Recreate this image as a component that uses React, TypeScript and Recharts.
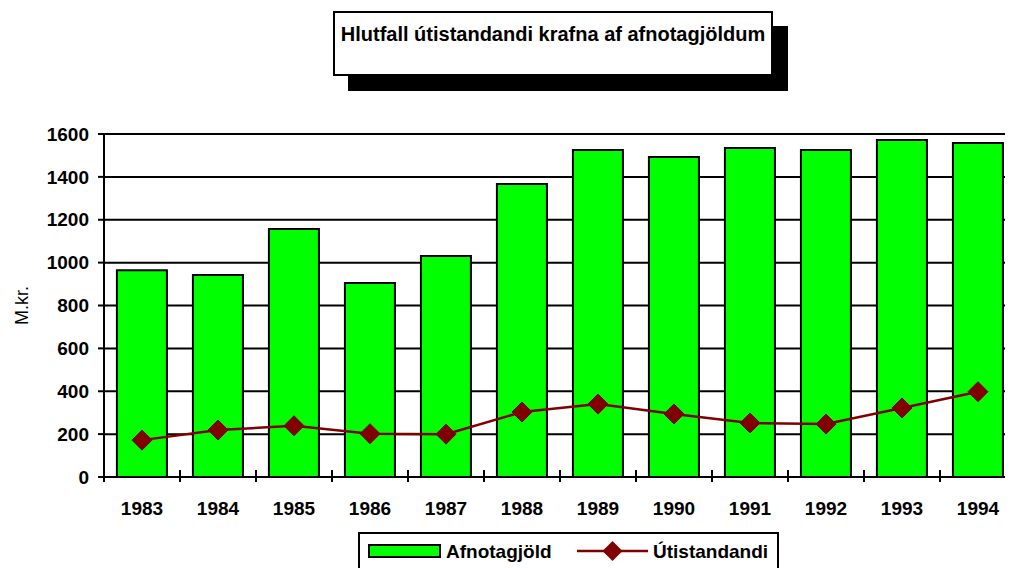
import React from 'react';
import { ComposedChart, Bar, Line, XAxis, YAxis, CartesianGrid } from 'recharts';

const years = ['1983', '1984', '1985', '1986', '1987', '1988', '1989', '1990', '1991', '1992', '1993', '1994'];
const afnotagjold = [965, 942, 1157, 905, 1031, 1367, 1525, 1493, 1535, 1525, 1572, 1558];
const utistandandi = [172, 219, 239, 202, 200, 303, 340, 294, 252, 247, 322, 398];
const yTicks = [0, 200, 400, 600, 800, 1000, 1200, 1400, 1600];

const data = years.map((y, i) => ({ year: y, afnotagjold: afnotagjold[i], utistandandi: utistandandi[i] }));

const FONT = '"Liberation Sans", Arial, Helvetica, sans-serif';

const Diamond = (props: any) => {
  const { cx, cy } = props;
  if (cx == null || cy == null) return null;
  const r = 10;
  return (
    <polygon
      points={`${cx},${cy - r} ${cx + r},${cy} ${cx},${cy + r} ${cx - r},${cy}`}
      fill="#800000"
      stroke="#800000"
    />
  );
};

const XTick = (props: any) => {
  const { x, y, payload, index, visibleTicksCount } = props;
  const off = payload && payload.offset ? payload.offset : 38;
  const last = index === (visibleTicksCount ? visibleTicksCount - 1 : years.length - 1);
  return (
    <g>
      <line x1={x - off} x2={x - off} y1={y - 7} y2={y + 5} stroke="#000" strokeWidth={2} />
      {last && <line x1={x + off} x2={x + off} y1={y - 7} y2={y + 5} stroke="#000" strokeWidth={2} />}
      <text x={x} y={y + 38} textAnchor="middle" fontFamily={FONT} fontWeight="bold" fontSize={19} fill="#000">
        {payload.value}
      </text>
    </g>
  );
};

export default function App() {
  return (
    <div style={{ position: 'relative', width: 1005, height: 560, overflow: 'hidden', background: '#fff' }}>
      <div
        style={{
          position: 'absolute',
          left: 325,
          top: 3,
          width: 440,
          height: 65,
          border: '2px solid #000',
          background: '#fff',
          boxShadow: '15px 15px 0 #000',
          textAlign: 'center',
          fontFamily: FONT,
          fontWeight: 'bold',
          fontSize: 20,
          lineHeight: '22px',
          paddingTop: 10,
          boxSizing: 'border-box',
          whiteSpace: 'nowrap',
          zIndex: 2,
        }}
      >
        Hlutfall útistandandi krafna af afnotagjöldum
      </div>
      <ComposedChart
        width={1030}
        height={560}
        data={data}
        margin={{ top: 126, right: 22, left: 0, bottom: 61 }}
        barCategoryGap="17%"
      >
        <CartesianGrid vertical={false} stroke="#000" strokeWidth={2} />
        <XAxis
          dataKey="year"
          height={30}
          axisLine={{ stroke: '#000', strokeWidth: 2 }}
          tickLine={false}
          tickSize={0}
          tickMargin={0}
          tick={<XTick />}
          interval={0}
        />
        <YAxis
          width={96}
          domain={[0, 1600]}
          ticks={yTicks}
          interval={0}
          axisLine={{ stroke: '#000', strokeWidth: 2 }}
          tickLine={{ stroke: '#000', strokeWidth: 2 }}
          tickSize={6}
          tickMargin={9}
          tick={{ fill: '#000', fontFamily: FONT, fontWeight: 'bold', fontSize: 19 }}
          label={{
            value: 'M.kr.',
            angle: -90,
            position: 'insideLeft',
            offset: 14,
            style: { fill: '#000', fontFamily: FONT, fontSize: 18, textAnchor: 'middle' },
          }}
        />
        <Bar dataKey="afnotagjold" fill="#00FF00" stroke="#000" strokeWidth={2} isAnimationActive={false} />
        <Line
          dataKey="utistandandi"
          stroke="#800000"
          strokeWidth={2.5}
          dot={<Diamond />}
          activeDot={false}
          isAnimationActive={false}
        />
      </ComposedChart>
      <div
        style={{
          position: 'absolute',
          left: 350,
          top: 524,
          width: 421,
          height: 50,
          border: '2px solid #000',
          background: '#fff',
          boxSizing: 'border-box',
        }}
      >
        <svg width={421} height={40} style={{ position: 'absolute', left: -2, top: -2 }}>
          <rect x={11} y={13} width={71} height={12} fill="#00FF00" stroke="#000" strokeWidth={2} />
          <text x={88} y={26} fontFamily={FONT} fontWeight="bold" fontSize={19} fill="#000">Afnotagjöld</text>
          <line x1={219} x2={290} y1={19} y2={19} stroke="#800000" strokeWidth={2.5} />
          <polygon points="254.5,9 264.5,19 254.5,29 244.5,19" fill="#800000" />
          <text x={295} y={26} fontFamily={FONT} fontWeight="bold" fontSize={19} fill="#000">Útistandandi</text>
        </svg>
      </div>
    </div>
  );
}
